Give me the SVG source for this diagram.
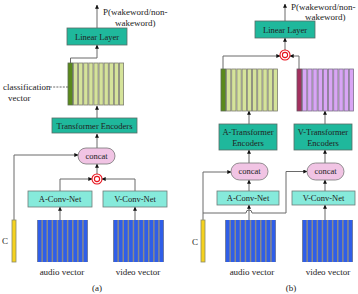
<svg xmlns="http://www.w3.org/2000/svg" width="358" height="294" viewBox="0 0 358 294">
<defs>
<style>
text{font-family:"Liberation Serif","Times New Roman",serif;fill:#222;}
.lbl{font-size:8.5px;text-anchor:middle;}
.cap{font-size:9px;}
.dk{fill:#1fb89c;stroke:#5a6b66;stroke-width:0.8;}
.lt{fill:#86eadb;stroke:#6f7a78;stroke-width:0.8;}
.pk{fill:#f1c4e4;stroke:#777;stroke-width:0.8;}
.ln{fill:none;stroke:#6a6a6a;stroke-width:1;}
.lg{fill:#d5e39a;stroke:#7d7d70;stroke-width:0.8;}
.dg{fill:#5b8a1c;stroke:#5b6b50;stroke-width:0.8;}
.pu{fill:#d9a5f5;stroke:#7d708a;stroke-width:0.8;}
.mg{fill:#a3305f;stroke:#6b5060;stroke-width:0.8;}
.yl{fill:#f5d21f;stroke:#8a8a6a;stroke-width:0.8;}
.sum{fill:#fff;stroke:#e8121c;stroke-width:1.1;}
.vbg{fill:#8a8a8a;}
.b{fill:#2f5ee8;}
</style>
<marker id="ah" viewBox="0 0 6 6" refX="5.5" refY="3" markerWidth="4" markerHeight="4" orient="auto">
<path d="M0,0 L6,3 L0,6 z" fill="#111"/>
</marker>
<g id="bars">
<rect class="vbg" x="0" y="0" width="51" height="42"/>
<rect class="b" x="0.8" y="0" width="3.6" height="42"/>
<rect class="b" x="5.9" y="0" width="3.6" height="42"/>
<rect class="b" x="11" y="0" width="3.6" height="42"/>
<rect class="b" x="16.1" y="0" width="3.6" height="42"/>
<rect class="b" x="21.2" y="0" width="3.6" height="42"/>
<rect class="b" x="26.3" y="0" width="3.6" height="42"/>
<rect class="b" x="31.4" y="0" width="3.6" height="42"/>
<rect class="b" x="36.5" y="0" width="3.6" height="42"/>
<rect class="b" x="41.6" y="0" width="3.6" height="42"/>
<rect class="b" x="46.7" y="0" width="3.6" height="42"/>
</g>
</defs>

<!-- connectors -->
<g id="connectors" class="ln">
<!-- panel a -->
<path d="M97,28 V5" marker-end="url(#ah)"/>
<path d="M70.5,63 V58 H97 V45" marker-end="url(#ah)"/>
<path d="M50,87 H68" stroke-dasharray="2,1.2"/>
<path d="M97,118 V106" marker-end="url(#ah)"/>
<path d="M97,148 V134" marker-end="url(#ah)"/>
<path d="M14,220 V155 H78" marker-end="url(#ah)"/>
<path d="M97,174 V164" marker-end="url(#ah)"/>
<path d="M60,191 V179 H92" marker-end="url(#ah)"/>
<path d="M135,191 V179 H102" marker-end="url(#ah)"/>
<path d="M60,220 V207" marker-end="url(#ah)"/>
<path d="M135,220 V207" marker-end="url(#ah)"/>
<!-- panel b -->
<path d="M285,21 V4" marker-end="url(#ah)"/>
<path d="M285,50 V38" marker-end="url(#ah)"/>
<path d="M223,69 V56 H280" marker-end="url(#ah)"/>
<path d="M299,69 V56 H290" marker-end="url(#ah)"/>
<path d="M249,124 V111" marker-end="url(#ah)"/>
<path d="M325,124 V111" marker-end="url(#ah)"/>
<path d="M249,163 V150" marker-end="url(#ah)"/>
<path d="M325,163 V150" marker-end="url(#ah)"/>
<path d="M249,191 V180" marker-end="url(#ah)"/>
<path d="M325,191 V180" marker-end="url(#ah)"/>
<path d="M249,220 V205" marker-end="url(#ah)"/>
<path d="M325,220 V205" marker-end="url(#ah)"/>
<path d="M203,220 V172 H231" marker-end="url(#ah)"/>
<path d="M203,213 H246 A3,3 0 0 1 252,213 H286 V171.5 H307" marker-end="url(#ah)"/>
</g>

<!-- panel a nodes -->
<g id="a-output">
<text class="cap" x="103" y="15">P(wakeword/non-</text>
<text class="cap" x="115" y="26">wakeword)</text>
</g>
<g id="a-linear">
<rect class="dk" x="67" y="28" width="60" height="17"/>
<text class="lbl" x="97" y="39.5">Linear Layer</text>
</g>
<g id="a-stack">
<rect class="dg" x="68" y="63" width="4.6" height="42"/>
<rect class="lg" x="73.5" y="63" width="4.2" height="42"/>
<rect class="lg" x="78.6" y="63" width="4.2" height="42"/>
<rect class="lg" x="83.7" y="63" width="4.2" height="42"/>
<rect class="lg" x="88.8" y="63" width="4.2" height="42"/>
<rect class="lg" x="93.9" y="63" width="4.2" height="42"/>
<rect class="lg" x="99" y="63" width="4.2" height="42"/>
<rect class="lg" x="104.1" y="63" width="4.2" height="42"/>
<rect class="lg" x="109.2" y="63" width="4.2" height="42"/>
<rect class="lg" x="114.3" y="63" width="4.2" height="42"/>
<rect class="lg" x="119.4" y="63" width="4.2" height="42"/>
</g>
<g id="a-classification">
<text class="cap" x="3" y="90">classification</text>
<text class="cap" x="8" y="101">vector</text>
</g>
<g id="a-transformer">
<rect class="dk" x="52" y="118" width="85" height="15"/>
<text class="lbl" x="94.5" y="128.5">Transformer Encoders</text>
</g>
<g id="a-concat">
<rect class="pk" x="78" y="148" width="37" height="16" rx="8"/>
<text class="lbl" x="96.5" y="158.8">concat</text>
</g>
<g id="a-sum">
<circle class="sum" cx="97" cy="179" r="5"/>
<circle class="sum" cx="97" cy="179" r="2.6"/>
</g>
<g id="a-aconv">
<rect class="lt" x="28" y="191" width="64" height="16"/>
<text class="lbl" x="60" y="201.8">A-Conv-Net</text>
</g>
<g id="a-vconv">
<rect class="lt" x="103" y="191" width="64" height="16"/>
<text class="lbl" x="135" y="201.8">V-Conv-Net</text>
</g>
<g id="a-audio">
<use href="#bars" x="37" y="220"/>
<text class="cap" x="62" y="275" text-anchor="middle">audio vector</text>
</g>
<g id="a-video">
<use href="#bars" x="113" y="220"/>
<text class="cap" x="138" y="275" text-anchor="middle">video vector</text>
</g>
<g id="a-c">
<rect class="yl" x="12" y="220" width="4" height="42"/>
<text class="cap" x="2" y="244">C</text>
</g>
<text class="cap" x="97" y="291" text-anchor="middle">(a)</text>

<!-- panel b nodes -->
<g id="b-output">
<text class="cap" x="291" y="10">P(wakeword/non-</text>
<text class="cap" x="305" y="20">wakeword)</text>
</g>
<g id="b-linear">
<rect class="dk" x="255" y="21" width="60" height="17"/>
<text class="lbl" x="285" y="32.5">Linear Layer</text>
</g>
<g id="b-sum">
<circle class="sum" cx="285" cy="55" r="5"/>
<circle class="sum" cx="285" cy="55" r="2.6"/>
</g>
<g id="b-astack">
<rect class="dg" x="221" y="69" width="4.6" height="42"/>
<rect class="lg" x="226.5" y="69" width="4.3" height="42"/>
<rect class="lg" x="231.7" y="69" width="4.3" height="42"/>
<rect class="lg" x="236.9" y="69" width="4.3" height="42"/>
<rect class="lg" x="242.1" y="69" width="4.3" height="42"/>
<rect class="lg" x="247.3" y="69" width="4.3" height="42"/>
<rect class="lg" x="252.5" y="69" width="4.3" height="42"/>
<rect class="lg" x="257.7" y="69" width="4.3" height="42"/>
<rect class="lg" x="262.9" y="69" width="4.3" height="42"/>
<rect class="lg" x="268.1" y="69" width="4.3" height="42"/>
<rect class="lg" x="273.3" y="69" width="4.3" height="42"/>
</g>
<g id="b-vstack">
<rect class="mg" x="297" y="69" width="4.6" height="42"/>
<rect class="pu" x="302.5" y="69" width="4.3" height="42"/>
<rect class="pu" x="307.7" y="69" width="4.3" height="42"/>
<rect class="pu" x="312.9" y="69" width="4.3" height="42"/>
<rect class="pu" x="318.1" y="69" width="4.3" height="42"/>
<rect class="pu" x="323.3" y="69" width="4.3" height="42"/>
<rect class="pu" x="328.5" y="69" width="4.3" height="42"/>
<rect class="pu" x="333.7" y="69" width="4.3" height="42"/>
<rect class="pu" x="338.9" y="69" width="4.3" height="42"/>
<rect class="pu" x="344.1" y="69" width="4.3" height="42"/>
<rect class="pu" x="349.3" y="69" width="4.3" height="42"/>
</g>
<g id="b-atransformer">
<rect class="dk" x="219" y="124" width="58" height="26"/>
<text class="lbl" x="248" y="135">A-Transformer</text>
<text class="lbl" x="248" y="146">Encoders</text>
</g>
<g id="b-vtransformer">
<rect class="dk" x="294" y="124" width="58" height="26"/>
<text class="lbl" x="323" y="135">V-Transformer</text>
<text class="lbl" x="323" y="146">Encoders</text>
</g>
<g id="b-aconcat">
<rect class="pk" x="231" y="163" width="37" height="17" rx="8.5"/>
<text class="lbl" x="249.5" y="174.3">concat</text>
</g>
<g id="b-vconcat">
<rect class="pk" x="307" y="163" width="37" height="17" rx="8.5"/>
<text class="lbl" x="325.5" y="174.3">concat</text>
</g>
<g id="b-aconv">
<rect class="lt" x="217" y="191" width="62" height="14"/>
<text class="lbl" x="248" y="201">A-Conv-Net</text>
</g>
<g id="b-vconv">
<rect class="lt" x="292" y="191" width="63" height="14"/>
<text class="lbl" x="323.5" y="201">V-Conv-Net</text>
</g>
<g id="b-audio">
<use href="#bars" x="225" y="220"/>
<text class="cap" x="252" y="275" text-anchor="middle">audio vector</text>
</g>
<g id="b-video">
<use href="#bars" x="302" y="220"/>
<text class="cap" x="328" y="275" text-anchor="middle">video vector</text>
</g>
<g id="b-c">
<rect class="yl" x="201" y="220" width="4" height="42"/>
<text class="cap" x="192" y="245">C</text>
</g>
<text class="cap" x="291" y="291" text-anchor="middle">(b)</text>
</svg>
